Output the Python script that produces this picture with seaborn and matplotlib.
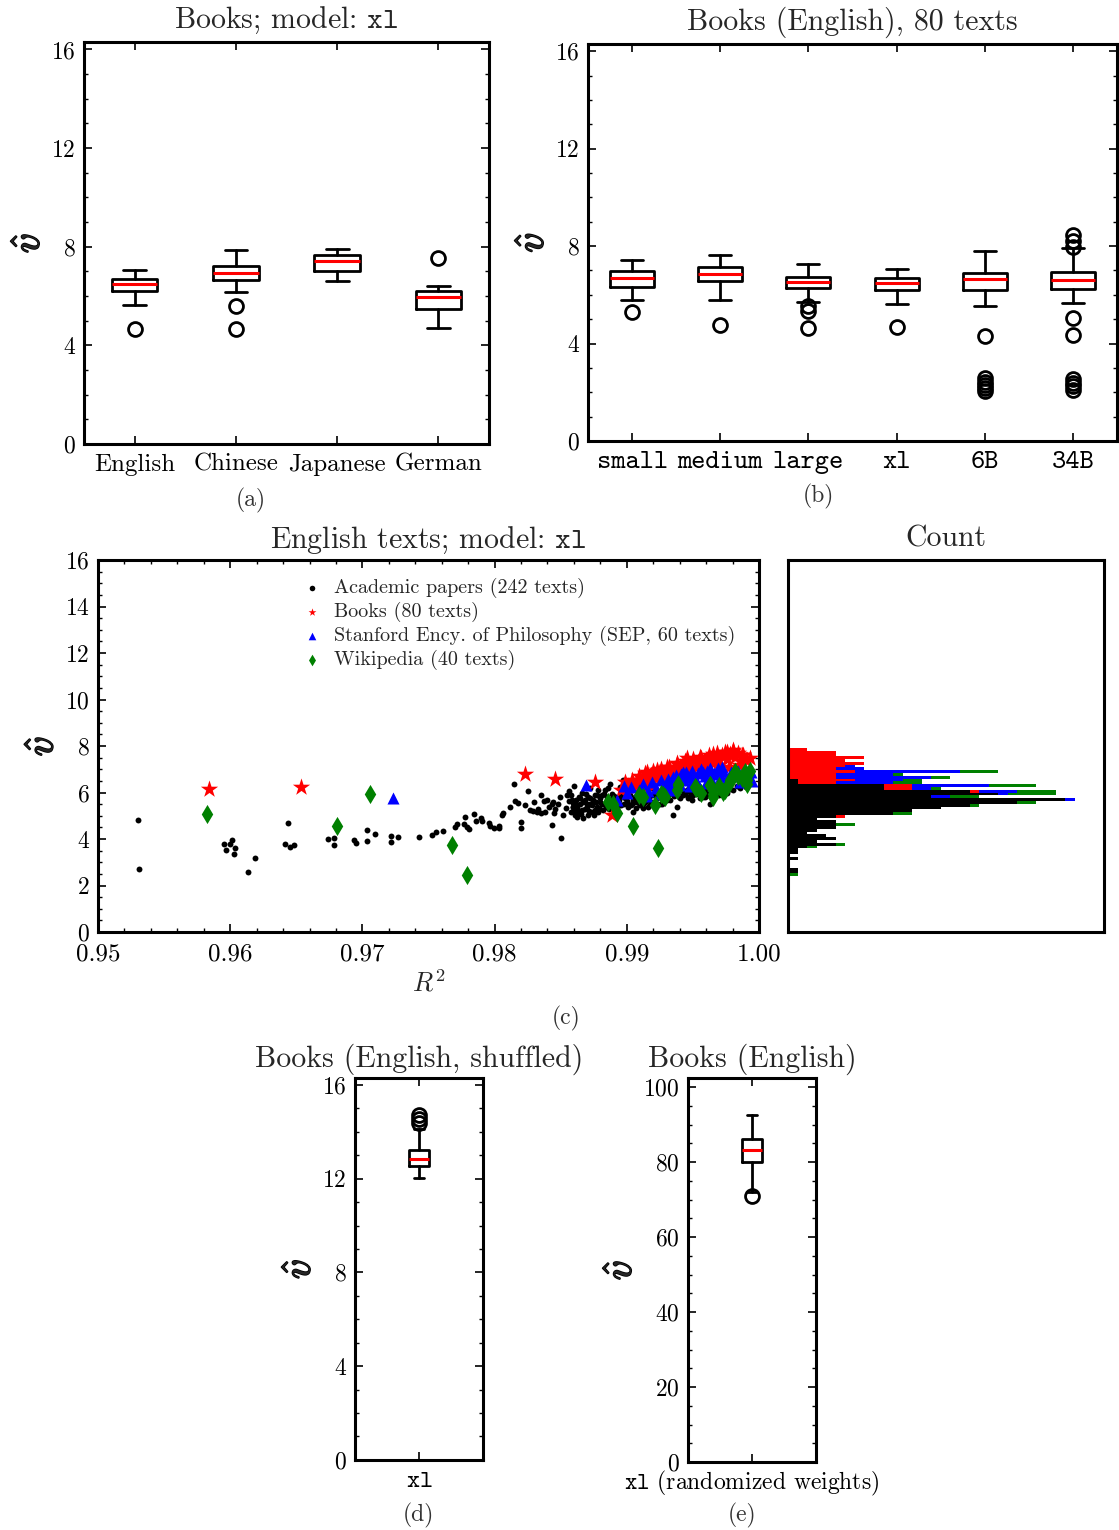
import numpy as np
import pandas as pd
import matplotlib.pyplot as plt
import matplotlib.patheffects as pe
from matplotlib.ticker import MultipleLocator, FormatStrFormatter, NullLocator
import seaborn as sns

# PANEL (a): box statistics per language (books, model xl)
lang_labels = ["English", "Chinese", "Japanese", "German"]
lang_med = [6.50, 6.92, 7.41, 5.95]
lang_q1 = [6.19, 6.65, 7.02, 5.48]
lang_q3 = [6.71, 7.20, 7.68, 6.22]
lang_lo = [5.64, 6.18, 6.63, 4.72]
lang_hi = [7.04, 7.86, 7.91, 6.42]
lang_out = [[4.67], [5.60, 4.67], [], [7.55]]

# PANEL (b): box statistics per model size (English books)
size_labels = ["small", "medium", "large", "xl", "6B", "34B"]
size_med = [6.67, 6.87, 6.51, 6.47, 6.63, 6.61]
size_q1 = [6.31, 6.58, 6.27, 6.19, 6.20, 6.24]
size_q3 = [6.97, 7.16, 6.75, 6.70, 6.90, 6.94]
size_lo = [5.79, 5.80, 5.69, 5.61, 5.54, 5.68]
size_hi = [7.44, 7.64, 7.27, 7.05, 7.78, 7.93]
size_out = [[5.30], [4.77], [5.56, 5.32, 4.62], [4.68],
            [4.29, 2.58, 2.40, 2.28, 2.16, 2.06],
            [8.44, 8.20, 7.98, 5.05, 4.35, 2.55, 2.38, 2.24, 2.08]]

# PANEL (d): shuffled books
shuf_stats = dict(med=12.86, q1=12.56, q3=13.24, lo=12.04, hi=14.10,
                  out=[14.71, 14.53, 14.39])
# PANEL (e): randomized weights
rand_stats = dict(med=83.2, q1=80.0, q3=86.05, lo=72.0, hi=92.5, out=[71.0])

# PANEL (c): (R^2, v-hat) per text
acad_pts = [
    (0.95305, 4.82), (0.95312, 2.72), (0.95953, 3.77), (0.95966, 3.53), (0.95999, 3.81),
    (0.96011, 3.96), (0.96036, 3.60), (0.96029, 3.38), (0.96137, 2.58), (0.96185, 3.18),
    (0.96440, 4.69), (0.96412, 3.77), (0.96455, 3.64), (0.96485, 3.73), (0.96742, 3.99),
    (0.96787, 4.06), (0.96787, 3.76), (0.96939, 3.96), (0.96954, 3.84), (0.97037, 4.39),
    (0.97035, 3.93), (0.97095, 4.20), (0.97216, 4.14), (0.97214, 3.87), (0.97272, 4.09),
    (0.97426, 4.09), (0.97524, 4.16), (0.97555, 4.29), (0.97610, 4.34), (0.97698, 4.54),
    (0.97718, 4.63), (0.97776, 4.95), (0.97769, 4.66), (0.97794, 4.53), (0.97809, 4.42),
    (0.97847, 5.10), (0.97857, 4.77), (0.97897, 4.89), (0.97907, 4.77), (0.97958, 4.69),
    (0.97965, 4.57), (0.97995, 4.47), (0.98033, 4.56), (0.98036, 4.46), (0.98053, 5.03),
    (0.98066, 5.13), (0.98149, 6.35), (0.98151, 5.63), (0.98197, 4.75), (0.98200, 4.46),
    (0.98253, 6.09), (0.98268, 5.25), (0.98288, 5.20), (0.98318, 5.15), (0.98351, 5.91),
    (0.98353, 5.13), (0.98374, 5.65), (0.98384, 5.17), (0.98412, 5.39), (0.98432, 5.49),
    (0.98444, 5.60), (0.98449, 5.14), (0.98437, 4.61), (0.98497, 5.79), (0.98502, 4.03),
    (0.98520, 5.03), (0.98563, 6.08), (0.98565, 5.63), (0.98590, 5.40), (0.98600, 5.25),
    (0.98610, 5.05), (0.98620, 5.35), (0.98630, 5.15), (0.98583, 5.68), (0.98595, 5.39),
    (0.98608, 5.18), (0.98620, 4.96), (0.98646, 5.53), (0.98658, 5.25), (0.98671, 4.89),
    (0.98683, 5.68), (0.98696, 5.39), (0.98709, 5.82), (0.98721, 5.53), (0.98734, 5.18),
    (0.98746, 5.68), (0.98759, 5.89), (0.98772, 5.39), (0.98784, 5.18), (0.98797, 5.61),
    (0.98809, 5.89), (0.98822, 5.25), (0.98835, 6.11), (0.98847, 5.68), (0.98860, 6.18),
    (0.98872, 5.46), (0.98885, 5.96), (0.98898, 5.75), (0.98910, 5.25), (0.98935, 5.53),
    (0.98948, 5.82), (0.98973, 6.54), (0.98986, 6.04), (0.98998, 5.61), (0.99011, 5.39),
    (0.99024, 5.89), (0.99036, 5.53), (0.99049, 5.18), (0.99061, 5.82), (0.99074, 5.61),
    (0.99087, 6.04), (0.99099, 5.46), (0.99112, 5.75), (0.99124, 5.32), (0.99137, 5.61),
    (0.99150, 5.96), (0.99175, 5.46), (0.99200, 6.40), (0.99213, 6.18), (0.99225, 5.75),
    (0.99238, 5.96), (0.99251, 5.53), (0.99276, 5.68), (0.99301, 5.82), (0.98575, 5.90),
    (0.98590, 5.55), (0.98615, 5.70), (0.98625, 5.45), (0.98640, 5.80), (0.98650, 5.10),
    (0.98665, 5.60), (0.98680, 5.30), (0.98690, 5.95), (0.98700, 5.50), (0.98715, 5.20),
    (0.98725, 5.75), (0.98740, 5.45), (0.98750, 5.05), (0.98765, 5.60), (0.98775, 5.90),
    (0.98790, 5.35), (0.98800, 5.75), (0.98815, 5.50), (0.98825, 5.95), (0.98840, 5.40),
    (0.98850, 5.80), (0.98865, 5.30), (0.98880, 5.65), (0.98890, 5.45), (0.98905, 5.85),
    (0.98915, 5.60), (0.98925, 5.35), (0.98940, 5.70), (0.98955, 5.45), (0.98965, 5.95),
    (0.98980, 5.50), (0.98990, 5.75), (0.99005, 5.65), (0.99015, 5.90), (0.99030, 5.45),
    (0.99045, 5.70), (0.99055, 5.60), (0.99070, 5.35), (0.99080, 5.80), (0.99095, 5.55),
    (0.99105, 5.70), (0.99120, 5.50), (0.99130, 5.85), (0.99145, 5.65), (0.99160, 5.40),
    (0.99170, 5.75), (0.99185, 5.60), (0.99195, 5.90), (0.99210, 5.55), (0.99264, 5.53),
    (0.99276, 5.82), (0.99301, 5.68), (0.99377, 5.39), (0.99402, 5.75), (0.99427, 5.89),
    (0.99453, 6.11), (0.99465, 5.75), (0.99478, 6.04), (0.99490, 5.68), (0.99503, 5.89),
    (0.99553, 5.75), (0.99591, 5.82), (0.99616, 5.89), (0.99629, 5.53), (0.99642, 5.75),
    (0.99805, 6.11), (0.99856, 6.18), (0.99352, 5.03), (0.99320, 5.95), (0.99340, 6.05),
    (0.99360, 5.85), (0.99390, 6.00), (0.99420, 6.10), (0.99440, 5.95), (0.99470, 6.20),
    (0.99520, 6.05), (0.99540, 5.95), (0.99570, 6.15), (0.99600, 6.05), (0.99660, 6.00),
    (0.99690, 6.20), (0.99720, 6.10), (0.99750, 6.25), (0.99780, 6.15), (0.99830, 6.30),
    (0.99880, 6.35), (0.99900, 6.25), (0.99700, 5.90), (0.99650, 6.25), (0.99760, 6.00),
    (0.99580, 5.80), (0.99480, 5.85), (0.99330, 5.70), (0.99240, 6.00), (0.99180, 6.20),
    (0.99110, 6.30), (0.99030, 6.20), (0.98950, 6.25), (0.98870, 6.35), (0.98780, 6.10),
    (0.98720, 6.20), (0.98660, 6.00), (0.98600, 6.30), (0.98120, 5.40), (0.98180, 5.55),
    (0.98230, 5.45), (0.98300, 5.60), (0.98330, 5.30), (0.98400, 5.70), (0.98460, 5.30),
    (0.98480, 5.50), (0.98540, 5.35), (0.98550, 5.90), (0.98580, 5.15), (0.98645, 5.75),
    (0.98705, 5.05), (0.98760, 5.25),
]
books_pts = [
    (0.95840, 6.16), (0.96538, 6.22), (0.98227, 6.78), (0.98459, 6.58), (0.98759, 6.47),
    (0.98953, 6.11), (0.98885, 5.03), (0.99010, 6.30), (0.99040, 6.55), (0.99070, 6.40),
    (0.99090, 6.70), (0.99120, 6.60), (0.99140, 6.85), (0.99160, 6.50), (0.99180, 6.75),
    (0.99200, 6.95), (0.99220, 6.65), (0.99240, 6.85), (0.99260, 7.00), (0.99280, 6.70),
    (0.99300, 6.90), (0.99320, 7.10), (0.99340, 6.80), (0.99360, 7.00), (0.99380, 7.25),
    (0.99400, 6.95), (0.99420, 7.15), (0.99440, 7.35), (0.99460, 7.05), (0.99480, 7.25),
    (0.99500, 7.45), (0.99520, 7.10), (0.99540, 7.30), (0.99560, 7.50), (0.99580, 7.20),
    (0.99600, 7.40), (0.99620, 7.60), (0.99640, 7.30), (0.99660, 7.50), (0.99680, 7.70),
    (0.99700, 7.40), (0.99720, 7.60), (0.99740, 7.75), (0.99760, 7.45), (0.99780, 7.65),
    (0.99800, 7.80), (0.99820, 7.55), (0.99840, 7.70), (0.99860, 7.35), (0.99880, 7.60),
    (0.99900, 7.40), (0.99930, 7.50), (0.99150, 6.90), (0.99226, 6.97), (0.99301, 7.11),
    (0.99377, 7.26), (0.99453, 7.47), (0.99553, 7.54), (0.99654, 7.68), (0.99755, 7.76),
    (0.99805, 7.83), (0.99869, 7.61), (0.99906, 7.40), (0.99100, 6.54), (0.99175, 6.40),
    (0.99251, 6.54), (0.99327, 6.68), (0.99402, 6.83), (0.99478, 6.90), (0.99050, 6.20),
    (0.99130, 6.25), (0.99560, 7.00), (0.99620, 7.15), (0.99700, 7.20), (0.98990, 6.45),
    (0.99190, 6.30), (0.99340, 6.50), (0.99500, 6.75), (0.99770, 7.10), (0.99850, 7.20),
]
sep_pts = [
    (0.97229, 5.78), (0.98691, 6.32), (0.98929, 5.68), (0.99095, 6.11), (0.98980, 6.30),
    (0.99352, 6.68), (0.99427, 6.89), (0.99503, 6.75), (0.99579, 6.89), (0.99629, 7.04),
    (0.99679, 6.82), (0.99717, 7.11), (0.99780, 6.75), (0.99856, 6.47), (0.99301, 6.18),
    (0.99402, 6.32), (0.99528, 6.47), (0.99654, 6.32), (0.99742, 6.47), (0.99000, 6.00),
    (0.99030, 6.25), (0.99120, 6.35), (0.99160, 6.05), (0.99190, 6.45), (0.99220, 6.20),
    (0.99260, 6.55), (0.99280, 6.30), (0.99310, 6.60), (0.99330, 6.40), (0.99370, 6.75),
    (0.99390, 6.50), (0.99410, 6.80), (0.99430, 6.55), (0.99450, 6.90), (0.99470, 6.65),
    (0.99490, 6.95), (0.99510, 6.60), (0.99540, 6.85), (0.99560, 7.00), (0.99590, 6.70),
    (0.99610, 6.95), (0.99640, 6.60), (0.99660, 6.85), (0.99690, 7.05), (0.99710, 6.70),
    (0.99730, 6.95), (0.99760, 6.60), (0.99790, 6.90), (0.99820, 6.70), (0.99840, 6.95),
    (0.99870, 6.55), (0.99890, 6.80), (0.99920, 6.65), (0.99950, 6.50), (0.99940, 6.90),
    (0.99600, 6.40), (0.99480, 6.30), (0.99350, 6.10), (0.99250, 5.95), (0.99150, 5.85),
]
wiki_pts = [
    (0.95827, 5.06), (0.96810, 4.56), (0.97055, 5.95), (0.97675, 3.76), (0.97791, 2.45),
    (0.98860, 5.60), (0.98898, 5.53), (0.98929, 5.14), (0.99047, 4.56), (0.99095, 5.89),
    (0.99125, 5.79), (0.99213, 5.46), (0.99238, 3.60), (0.99256, 5.96), (0.99289, 5.82),
    (0.99377, 6.11), (0.99389, 6.39), (0.99520, 6.20), (0.99629, 6.32), (0.99654, 5.82),
    (0.99729, 6.03), (0.99781, 6.54), (0.99819, 6.89), (0.99869, 6.61), (0.99894, 6.82),
    (0.99906, 6.39), (0.99390, 6.32), (0.99516, 6.25), (0.99629, 6.32), (0.99654, 5.96),
    (0.99742, 6.11), (0.99780, 6.47), (0.99818, 6.89), (0.99894, 6.89), (0.99906, 6.54),
    (0.99276, 5.89), (0.99560, 6.00), (0.99700, 6.30), (0.99840, 6.70), (0.99930, 6.95),
]
corpus_names = ["Academic papers (242 texts)", "Books (80 texts)",
                "Stanford Ency. of Philosophy (SEP, 60 texts)", "Wikipedia (40 texts)"]
corpus_colors = ["black", "red", "blue", "green"]
corpus_markers = ["o", "*", "^", "d"]

# STYLE
sns.set_style("ticks")
plt.rcParams.update({
    "font.family": "cmr10",
    "mathtext.fontset": "cm",
    "axes.formatter.use_mathtext": True,
    "axes.linewidth": 2.2,
    "axes.edgecolor": "black",
    "xtick.color": "black",
    "ytick.color": "black",
    "xtick.direction": "in",
    "ytick.direction": "in",
    "xtick.top": True,
    "ytick.right": True,
    "xtick.major.size": 6,
    "ytick.major.size": 6,
    "xtick.minor.size": 3,
    "ytick.minor.size": 3,
    "xtick.major.width": 1.2,
    "ytick.major.width": 1.2,
    "xtick.minor.width": 1.0,
    "ytick.minor.width": 1.0,
    "xtick.major.pad": 7,
    "ytick.major.pad": 6,
    "xtick.labelsize": 18,
    "ytick.labelsize": 17,
    "axes.titlesize": 21.5,
    "axes.titlepad": 10,
    "axes.labelsize": 28,
})

fig = plt.figure(figsize=(11.19, 15.30), dpi=100)

box_kw = dict(
    boxprops=dict(color="black", lw=2),
    whiskerprops=dict(color="black", lw=2),
    capprops=dict(color="black", lw=2),
    medianprops=dict(color="red", lw=2.2),
    flierprops=dict(marker="o", markerfacecolor="none", markeredgecolor="black",
                    markersize=10, markeredgewidth=2),
)
bold_fx = [pe.withStroke(linewidth=1.2, foreground="black")]


def make_stats(labels, med, q1, q3, lo, hi, out):
    return [dict(label=l, med=m, q1=a, q3=b, whislo=w0, whishi=w1, fliers=f)
            for l, m, a, b, w0, w1, f in zip(labels, med, q1, q3, lo, hi, out)]


def vhat_label(ax):
    ax.set_ylabel(r"$\hat{v}$", labelpad=3, path_effects=bold_fx)


def vhat_axis(ax, top, major, minor):
    ax.set_ylim(0, top)
    ax.yaxis.set_major_locator(MultipleLocator(major))
    ax.yaxis.set_minor_locator(MultipleLocator(minor))
    ax.xaxis.set_minor_locator(NullLocator())
    vhat_label(ax)


# (a)
ax_a = fig.add_axes([0.0751, 0.7098, 0.3619, 0.2627])
ax_a.bxp(make_stats(lang_labels, lang_med, lang_q1, lang_q3, lang_lo, lang_hi, lang_out),
         widths=0.45, **box_kw)
vhat_axis(ax_a, 16.3, 4, 1)
ax_a.set_title(r"Books; model: $\mathtt{xl}$")

# (b)
ax_b = fig.add_axes([0.5255, 0.7118, 0.4727, 0.2595])
ax_b.bxp(make_stats(size_labels, size_med, size_q1, size_q3, size_lo, size_hi, size_out),
         widths=0.5, **box_kw)
vhat_axis(ax_b, 16.3, 4, 1)
for lbl in ax_b.get_xticklabels():
    lbl.set_fontfamily("cmtt10")
    lbl.set_fontsize(19.5)
ax_b.set_title("Books (English), 80 texts")

# (c) scatter
ax_c = fig.add_axes([0.0876, 0.3908, 0.5907, 0.2431])
marker_sizes = [18, 170, 75, 95]
frames = []
for pts, name, col, mk, sz in zip([acad_pts, books_pts, sep_pts, wiki_pts], corpus_names,
                                  corpus_colors, corpus_markers, marker_sizes):
    df = pd.DataFrame(pts, columns=["r2", "v"])
    df["corpus"] = name
    frames.append(df)
    sns.scatterplot(data=df, x="r2", y="v", marker=mk, color=col, s=sz,
                    linewidth=0, label=name, ax=ax_c)
ax_c.set_xlim(0.95, 1.0)
ax_c.set_ylim(0, 16)
ax_c.xaxis.set_major_locator(MultipleLocator(0.01))
ax_c.xaxis.set_minor_locator(MultipleLocator(0.002))
ax_c.xaxis.set_major_formatter(FormatStrFormatter("%.2f"))
ax_c.yaxis.set_major_locator(MultipleLocator(2))
ax_c.yaxis.set_minor_locator(MultipleLocator(0.5))
ax_c.tick_params(axis="x", pad=8)
ax_c.set_xlabel(r"$R^2$", fontsize=19, labelpad=3)
vhat_label(ax_c)
ax_c.set_title(r"English texts; model: $\mathtt{xl}$", pad=9)
leg = ax_c.legend(loc="upper left", bbox_to_anchor=(0.29, 0.985), frameon=False,
                  fontsize=14.5, handletextpad=0.6, labelspacing=0.2, handlelength=1.0,
                  borderaxespad=0.2)
for h, s in zip(leg.legend_handles, [16, 35, 30, 35]):
    h.set_sizes([s])

# (c) histogram
all_df = pd.concat(frames, ignore_index=True)
ax_h = fig.add_axes([0.7042, 0.3908, 0.2824, 0.2431])
sns.histplot(data=all_df, y="v", hue="corpus", hue_order=corpus_names[::-1],
             palette=dict(zip(corpus_names, corpus_colors)), multiple="stack",
             binwidth=0.12, binrange=(1.8, 8.04), element="bars", alpha=1,
             linewidth=0, legend=False, ax=ax_h)
ax_h.set_ylim(0, 16)
ax_h.set_xlim(0, ax_h.get_xlim()[1] * 1.05)
ax_h.set_xticks([])
ax_h.set_yticks([])
ax_h.set_xlabel("")
ax_h.set_ylabel("")
ax_h.set_title("Count", pad=10)

# (d)
ax_d = fig.add_axes([0.3172, 0.0458, 0.1144, 0.2497])
ax_d.bxp(make_stats(["xl"], [shuf_stats["med"]], [shuf_stats["q1"]], [shuf_stats["q3"]],
                    [shuf_stats["lo"]], [shuf_stats["hi"]], [shuf_stats["out"]]),
         widths=0.15, **box_kw)
vhat_axis(ax_d, 16.3, 4, 1)
ax_d.set_xticklabels([r"$\mathtt{xl}$"])
ax_d.set_title("Books (English, shuffled)", pad=8)

# (e)
ax_e = fig.add_axes([0.6148, 0.0444, 0.1144, 0.2510])
ax_e.bxp(make_stats(["xl"], [rand_stats["med"]], [rand_stats["q1"]], [rand_stats["q3"]],
                    [rand_stats["lo"]], [rand_stats["hi"]], [rand_stats["out"]]),
         widths=0.15, **box_kw)
vhat_axis(ax_e, 102.4, 20, 5)
ax_e.set_xticklabels([r"$\mathtt{xl}$ (randomized weights)"], fontsize=17)
ax_e.tick_params(axis="x", pad=5)
ax_e.set_title("Books (English)", pad=8)

# SUBCAPTIONS
for x, y, t in [(0.2243, 0.6732, "(a)"), (0.7310, 0.6752, "(b)"), (0.5058, 0.3346, "(c)"),
                (0.3735, 0.0098, "(d)"), (0.6631, 0.0098, "(e)")]:
    fig.text(x, y, t, ha="center", va="center", fontsize=17, color="#333333")

fig.savefig("out.png", dpi=100)
